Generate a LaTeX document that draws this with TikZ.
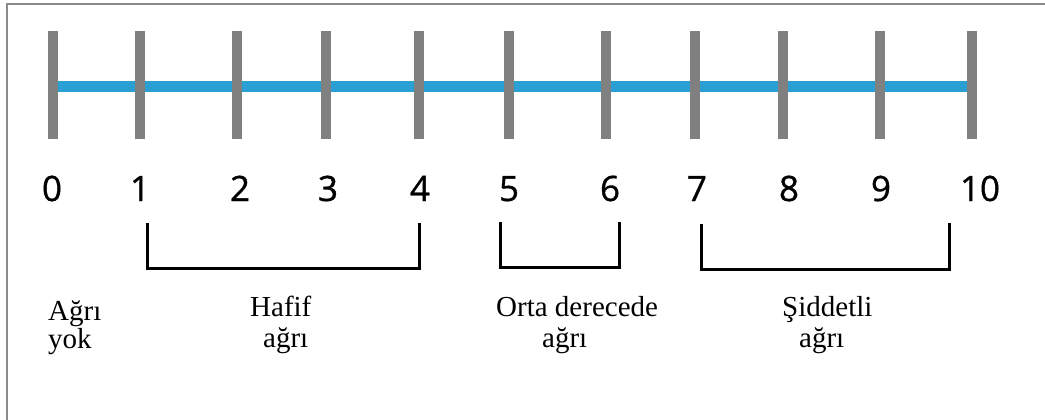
\documentclass[tikz,border=0pt]{standalone}
\usepackage{fontspec}
\setmainfont{Liberation Serif}
\newfontfamily\numfont[FakeBold=0.9]{Open Sans}
\definecolor{tickgray}{HTML}{808080}
\definecolor{scaleblue}{HTML}{2A9FD3}
\definecolor{framegray}{HTML}{8A8A8A}
\begin{document}
\begin{tikzpicture}[x=1pt,y=-1pt,
  tickbar/.style={draw=tickgray,line width=10.5pt},
  scaleline/.style={draw=scaleblue,line width=11pt},
  numlabel/.style={anchor=base,inner sep=0pt,font=\numfont\fontsize{35}{37}\selectfont},
  bracketline/.style={draw=black,line width=3pt,line join=miter},
  txt/.style={anchor=base west,inner sep=0pt,font=\fontsize{29}{31}\selectfont},
  frameline/.style={draw=framegray,line width=2pt}]
\useasboundingbox (0,0) rectangle (1045,420);
\fill[white] (0,0) rectangle (1045,420);
% frame (top and left only visible)
\coordinate (ftl) at (7,4);
\coordinate (ftr) at (1045,4);
\coordinate (fbl) at (7,420);
\draw[frameline] (fbl) -- (ftl) -- (ftr);
% blue line
\coordinate (bl) at (53,87);
\coordinate (br) at (972,87);
\draw[scaleline] (bl) -- (br);
% ticks
\foreach \i/\x in {0/53,1/140,2/237,3/326,4/419,5/509,6/606,7/695,8/783,9/880,10/972}{
  \coordinate (t\i a) at (\x,31);
  \coordinate (t\i b) at (\x,139);
  \draw[tickbar] (t\i a) -- (t\i b);
}
% numbers
\foreach \i/\x in {0/52,1/140,2/240,3/328,4/420,5/509,6/610,7/697,8/789,9/881,10/980}{
  \node[numlabel] (n\i) at (\x,201) {\i};
}
% brackets
\coordinate (b1a) at (147,223); \coordinate (b1b) at (147,268);
\coordinate (b1c) at (419,268); \coordinate (b1d) at (419,223);
\draw[bracketline] (b1a) -- (b1b) -- (b1c) -- (b1d);
\coordinate (b2a) at (500.5,222); \coordinate (b2b) at (500.5,267);
\coordinate (b2c) at (619.5,267); \coordinate (b2d) at (619.5,222);
\draw[bracketline] (b2a) -- (b2b) -- (b2c) -- (b2d);
\coordinate (b3a) at (701,224); \coordinate (b3b) at (701,269.5);
\coordinate (b3c) at (949.5,269.5); \coordinate (b3d) at (949.5,223);
\draw[bracketline] (b3a) -- (b3b) -- (b3c) -- (b3d);
% texts
\node[txt] (l0a) at (48,320) {Ağrı};
\node[txt] (l0b) at (48,348) {yok};
\node[txt] (l1a) at (250,316) {Hafif};
\node[txt] (l1b) at (263,347) {ağrı};
\node[txt] (l2a) at (496,316) {Orta derecede};
\node[txt] (l2b) at (542,347) {ağrı};
\node[txt] (l3a) at (782,316) {Şiddetli};
\node[txt] (l3b) at (799,347) {ağrı};
\end{tikzpicture}
\end{document}
